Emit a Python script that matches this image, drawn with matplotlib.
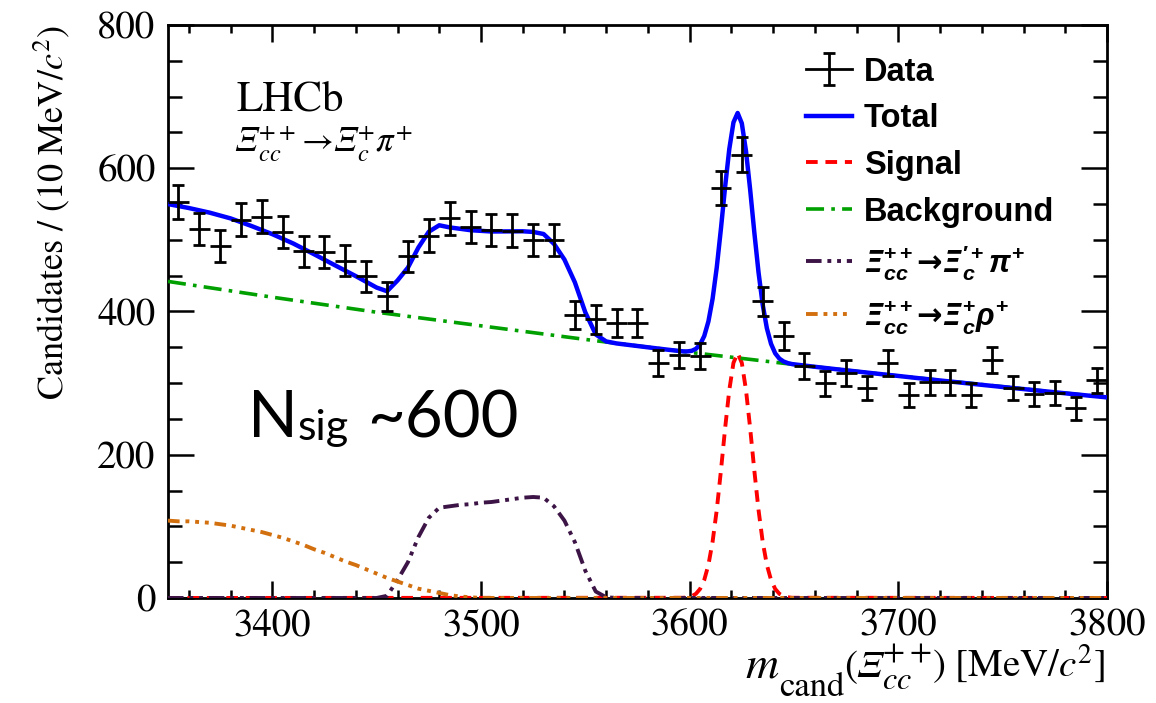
import numpy as np
import matplotlib
matplotlib.use("Agg")
import matplotlib.pyplot as plt
from matplotlib.lines import Line2D
from matplotlib.legend_handler import HandlerTuple

plt.rcParams['font.family'] = ['STIXGeneral', 'DejaVu Serif']
plt.rcParams['mathtext.fontset'] = 'stix'
# "custom" math font, used for the legend labels only
plt.rcParams['mathtext.rm'] = 'Liberation Sans:bold'
plt.rcParams['mathtext.it'] = 'Liberation Sans:italic:bold'
plt.rcParams['mathtext.bf'] = 'Liberation Sans:bold'
plt.rcParams['mathtext.fallback'] = 'stixsans'

# data, 10 MeV bins
x_data = np.arange(3355, 3800, 10)
y_data = [553, 515, 491, 528, 532, 511, 484, 483, 471, 449,
          421, 477, 506, 530, 518, 514, 513, 500, 500, 395,
          389, 384, 384, 328, 339, 338, 572, 619, 414, 366,
          324, 300, 314, 293, 328, 284, 301, 301, 284, 332,
          293, 285, 286, 265, 304]

# fit components
x_bkg = [3350, 3400, 3450, 3500, 3550, 3600, 3650, 3700, 3750, 3800]
y_bkg = [442, 420, 399, 380, 361, 343, 326, 310, 295, 280]

x_sig = [3350] + list(range(3597, 3650, 2)) + [3800]
y_sig = [0, 0.3, 1.0, 2.5, 5.8, 12.6, 25.2, 46.3, 78.6, 123.1, 177.9, 237.0, 290.4, 328.3,
         342, 328.3, 290.4, 237.0, 177.9, 123.1, 78.6, 46.3, 25.2, 12.6, 5.8, 2.5, 1.0, 0.3, 0]

x_pi = [3350, 3445, 3450, 3455, 3460, 3465, 3470, 3475, 3480, 3485, 3490, 3495, 3500, 3505,
        3510, 3515, 3520, 3525, 3530, 3535, 3540, 3545, 3550, 3555, 3560, 3565, 3800]
y_pi = [0, 0, 0, 3, 25, 50, 85, 112, 126, 128, 130, 131, 133, 134,
        136, 138, 140, 141, 140, 128, 108, 78, 38, 9, 1, 0, 0]

x_rho = [3350, 3355, 3360, 3365, 3370, 3375, 3380, 3385, 3390, 3395, 3400, 3405, 3410, 3415,
         3420, 3425, 3430, 3435, 3440, 3445, 3450, 3455, 3460, 3465, 3470, 3475, 3480, 3485,
         3490, 3495, 3500, 3800]
y_rho = [108, 107, 107, 106, 105, 103, 101, 98, 95, 92, 88, 84, 79, 74,
         68, 63, 57, 51, 46, 40, 34, 28, 23, 18, 13, 10, 7, 4,
         2, 1, 0, 0]

x_tot = ([3350, 3360, 3370, 3380, 3390, 3400, 3410, 3420, 3430, 3440]
         + list(range(3445, 3571, 5)) + [3580, 3590] + list(range(3597, 3650, 2))
         + list(range(3660, 3801, 10)))
y_tot = [550, 544.5, 538, 530, 519.4, 508, 495, 480, 464.6, 449.4,
         441.4, 433.4, 428.3, 443.3, 461.3, 489.3, 511.4, 520.4, 517.4, 515.5,
         513.5, 512.6, 511.7, 511.8, 511.9, 512, 511.1, 508.2, 494.4, 472.5,
         440.7, 398.8, 368, 358.2, 355.4, 353.6,
         350.0, 346.5,
         344.3, 344.3, 345.1, 347.8, 353.9, 365.8, 386.2, 417.8, 461.7, 515.8,
         574.2, 626.9, 664.1, 677.2, 662.8, 624.2, 570.1, 510.3, 454.9, 409.7,
         376.7, 354.9, 341.6, 334.2, 330.2, 328.0, 326.6,
         322.8, 319.5, 316.3, 313.1, 310.0, 306.8, 303.7, 300.7, 297.6, 294.6,
         291.7, 288.7, 285.8, 282.9, 280.1]

fig = plt.figure(figsize=(11.56, 7.03), dpi=100)
ax = fig.add_axes([0.1453, 0.1494, 0.8123, 0.815])

ax.errorbar(x_data, y_data, xerr=5, fmt='none', ecolor='black', elinewidth=2, capsize=0, zorder=5)
yeb = ax.errorbar(x_data, y_data, yerr=np.sqrt(y_data), fmt='none', ecolor='black',
                  elinewidth=2, capsize=4, capthick=2, zorder=5)

l_tot, = ax.plot(x_tot, y_tot, color='#0000ff', lw=3.2, zorder=4)
l_sig, = ax.plot(x_sig, y_sig, color='#ff0000', lw=2.8, ls=(0, (3, 2)), zorder=3)
l_bkg, = ax.plot(x_bkg, y_bkg, color='#00a000', lw=2.6, ls=(0, (5, 2, 1, 2)), zorder=3)
l_pi, = ax.plot(x_pi, y_pi, color='#3c1446', lw=2.8, ls=(0, (4, 1.5, 1, 1.5, 1, 1.5)), zorder=3)
l_rho, = ax.plot(x_rho, y_rho, color='#d2700f', lw=2.8, ls=(0, (3, 1.5, 1, 1.5, 1, 1.5, 1, 1.5)), zorder=3)

ax.set_xlim(3350, 3800)
ax.set_ylim(0, 800)
ax.set_xticks([3400, 3500, 3600, 3700, 3800])
ax.set_xticks(np.arange(3360, 3800, 20), minor=True)
ax.set_yticks([0, 200, 400, 600, 800])
ax.set_yticks(np.arange(0, 801, 50), minor=True)
ax.tick_params(axis='both', which='both', direction='in', top=True, right=True, width=1.8, labelsize=28)
ax.tick_params(axis='x', which='major', length=12, pad=8)
ax.tick_params(axis='x', which='minor', length=6)
ax.tick_params(axis='y', which='major', length=19, pad=9)
ax.tick_params(axis='y', which='minor', length=10)
for s in ax.spines.values():
    s.set_linewidth(2)

ax.set_ylabel(r'Candidates / (10 MeV/$c^2$)', fontsize=26, loc='top', labelpad=18)

renderer = fig.canvas.get_renderer()
W = fig.bbox.width
H = fig.bbox.height

# x axis title, built right to left so the pieces can have their own sizes
xt_pieces = [('m', dict(size=33, style='italic'), 0),
             ('cand', dict(size=25), -19),
             ('(', dict(size=28), 0),
             ('Ξ', dict(size=28, style='italic'), 0),
             (r'$_{cc}^{++}$', dict(size=33), 0),
             (r') [MeV/$c^2$]', dict(size=28), 0)]
xr = 1105 / W
for s, kw, dy in reversed(xt_pieces):
    t = fig.text(xr, (H - 677 + dy) / H, s, ha='right', va='baseline', **kw)
    xr = t.get_window_extent(renderer).x0 / W

ax.text(3383, 680, 'LHCb', fontsize=31, va='baseline')
ax.text(3382, 622, r'Ξ$_{cc}^{++}\!\rightarrow\!$Ξ$_{c}^{+}\pi^{+}$', fontsize=25,
        va='baseline', style='italic')

# N_sig ~600, left to right
ns_pieces = [('N', 47, 0, 0), ('sig', 31, -3, 0), ('~600', 47, 0, 18)]
xl = 248 / W
for s, size, dy, gap in ns_pieces:
    t = fig.text(xl + gap / W, (H - 437 + dy) / H, s, ha='left', va='baseline',
                 size=size, family=['Lato', 'DejaVu Sans'])
    xl = t.get_window_extent(renderer).x1 / W

data_handle = (Line2D([], [], color='black', lw=2), yeb)
leg = ax.legend([data_handle, l_tot, l_sig, l_bkg, l_pi, l_rho],
                ['Data', 'Total', 'Signal', 'Background',
                 r'Ξ$_{cc}^{++}$→Ξ$_{c}^{\prime +}\pi^{+}$',
                 r'Ξ$_{cc}^{++}$→Ξ$_{c}^{+}\rho^{+}$'],
                handler_map={tuple: HandlerTuple(ndivide=1, pad=0)},
                loc='upper left', bbox_to_anchor=(0.68, 0.945), frameon=False,
                prop={'family': ['Liberation Sans', 'DejaVu Sans'], 'weight': 'bold', 'size': 23.5},
                handlelength=1.4, handletextpad=0.35, labelspacing=0.48,
                borderpad=0, borderaxespad=0)
for t in leg.get_texts()[4:]:
    t.set_family(['DejaVu Sans'])
    t.set_fontstyle('italic')
    t.set_fontsize(22)
    t.set_math_fontfamily('custom')

fig.savefig('out.png', dpi=100)
